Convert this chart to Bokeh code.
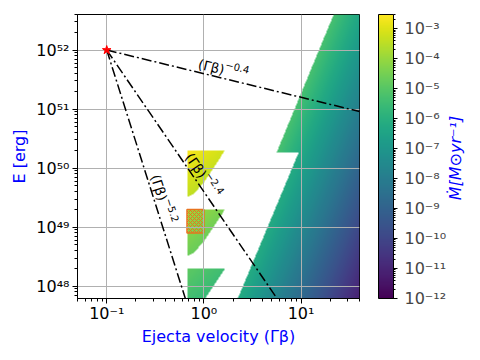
import math
import numpy as np
from bokeh.plotting import figure
from bokeh.models import (Range1d, LogColorMapper, ColorBar, LogTicker, FixedTicker,
                          CustomJSTickFormatter, LinearAxis)
from bokeh.palettes import Viridis256
from bokeh.embed import file_html
from bokeh.resources import INLINE

# ---------------- data ----------------
x_lo, x_hi = 0.05, 40.0            # Γβ axis limits
E_lo, E_hi = 6.2e47, 4.0e52        # E axis limits
mdot_lo, mdot_hi = 1e-12, 3e-3     # colour-scale limits

origin_gb = [0.1]
origin_E = [1e52]
index_values = [-0.4, -2.4, -5.2]
index_texts = ["−0.4", "−2.4", "−5.2"]

# main region: left boundary (log10 Γβ at log10 E), two segments with a step
main_upper_logE = [52.61, 50.26]
main_upper_loggb = [1.337, 0.746]
main_lower_logE = [50.26, 47.79]
main_lower_loggb = [0.973, 0.347]
# log10 Mdot at (Γβ=40, E=4e52) and its slopes in log Γβ and log E
main_ref_loggb, main_ref_logE, main_ref_logmdot = 1.602, 52.60, -6.35
main_slope_gb, main_slope_E = -4.0, 1.0

# three small regions near Γβ≈1
patch_top_E = [2.0e50, 2.0e49, 2.0e48]
patch_left_gb = 0.67
patch_edge_dlogE = [0.0, -0.284, -0.538, -0.737, -0.80]
patch_edge_loggb = [0.217, 0.103, 0.0, -0.103, -0.174]
patch_logmdot = [-2.6, -3.85, -4.85]      # at (left edge, top edge)
patch_slope_gb, patch_slope_E = -1.5, 1.0

# hatched box
hatch_gb = [0.67, 1.0]
hatch_E = [8e48, 2e49]

cbar_title = "Ṁ[M⊙yr⁻¹]"

# ---------------- field on a log grid ----------------
nx, ny = 564, 568
lgx = np.linspace(math.log10(x_lo), math.log10(x_hi), nx + 1)
lgy = np.linspace(math.log10(E_lo), math.log10(E_hi), ny + 1)
LX, LY = np.meshgrid(0.5 * (lgx[:-1] + lgx[1:]), 0.5 * (lgy[:-1] + lgy[1:]))
field = np.full(LX.shape, np.nan)

def seg(le, e0, e1, x0, x1):
    return x0 + (x1 - x0) * (le - e0) / (e1 - e0)

edge = np.where(LY >= main_upper_logE[1],
                seg(LY, *main_upper_logE, *main_upper_loggb),
                seg(LY, *main_lower_logE, *main_lower_loggb))
m = LX >= edge
field[m] = (main_ref_logmdot + main_slope_gb * (LX[m] - main_ref_loggb)
            + main_slope_E * (LY[m] - main_ref_logE))

lleft = math.log10(patch_left_gb)
for topE, ref in zip(patch_top_E, patch_logmdot):
    dE = LY - math.log10(topE)
    xmax = np.interp(dE, patch_edge_dlogE[::-1], patch_edge_loggb[::-1])
    m = (dE <= 0) & (dE >= patch_edge_dlogE[-1]) & (LX >= lleft) & (LX <= xmax)
    field[m] = ref + patch_slope_gb * (LX[m] - lleft) + patch_slope_E * dE[m]

img = 10.0 ** field

# ---------------- figure ----------------
FW, FH = 282, 284
FONT = "DejaVu Sans"
p = figure(frame_width=FW, frame_height=FH, x_axis_type="log", y_axis_type="log",
           x_range=Range1d(x_lo, x_hi), y_range=Range1d(E_lo, E_hi),
           output_backend="svg", toolbar_location=None,
           min_border_left=77, min_border_right=115, min_border_top=14, min_border_bottom=56)
p.background_fill_color = "white"
p.border_fill_color = "white"
p.outline_line_color = "black"
p.outline_line_width = 1

mapper = LogColorMapper(palette=Viridis256, low=mdot_lo, high=mdot_hi,
                        nan_color=(0, 0, 0, 0))
p.image(image=[img], x=x_lo, y=E_lo, dw=x_hi - x_lo, dh=E_hi - E_lo,
        color_mapper=mapper, level="image")

p.quad(left=[hatch_gb[0]], right=[hatch_gb[1]], bottom=[hatch_E[0]], top=[hatch_E[1]],
       fill_alpha=0, line_color="#e8731e", line_width=1.5,
       hatch_pattern="diagonal_cross", hatch_color="#e8731e", hatch_scale=4,
       hatch_weight=1, level="image")

# guide power laws
for k in index_values:
    xs = [origin_gb[0], x_hi]
    ys = [origin_E[0] * (xx / origin_gb[0]) ** k for xx in xs]
    p.line(xs, ys, line_color="black", line_width=1.5, line_dash="10 3 2 3")

p.scatter(origin_gb, origin_E, marker="star", size=9, color="red")

# labels of guide lines
ppdx = FW / math.log10(x_hi / x_lo)
ppdy = FH / math.log10(E_hi / E_lo)
label_start = [0.84, 0.59, 0.26]
gap, rise, wbase = 8.5, 6.0, 26.5
for k, txt, x0 in zip(index_values, index_texts, label_start):
    th = math.atan(k * ppdy / ppdx)
    d = (math.cos(th), -math.sin(th))
    n = (-math.sin(th), -math.cos(th))
    E0 = origin_E[0] * (x0 / origin_gb[0]) ** k

    def at(dx, dy):
        return x0 * 10 ** (dx / ppdx), E0 * 10 ** (-dy / ppdy)
    bx, by = at(gap * n[0], gap * n[1])
    ex, ey = at((gap + rise) * n[0] + wbase * d[0], (gap + rise) * n[1] + wbase * d[1])
    p.text([bx], [by], text=["(Γβ)"], angle=th, text_font={"value": FONT},
           text_font_size="13.5px", text_align="left", text_baseline="alphabetic",
           text_color="black")
    p.text([ex], [ey], text=[txt], angle=th, text_font={"value": FONT},
           text_font_size="10px", text_align="left", text_baseline="alphabetic",
           text_color="black")

# axes
fmt = CustomJSTickFormatter(code="""
const sup = {"0":"⁰","1":"¹","2":"²","3":"³","4":"⁴","5":"⁵","6":"⁶","7":"⁷","8":"⁸","9":"⁹","-":"⁻"};
const e = Math.round(Math.log10(tick));
return "10" + String(e).split("").map(c => sup[c]).join("");
""")
for ax in (p.xaxis[0], p.yaxis[0]):
    ax.formatter = fmt
    ax.ticker = LogTicker(num_minor_ticks=10)
    ax.major_label_text_font = FONT
    ax.major_label_text_font_size = "16px"
    ax.major_label_text_color = "black"
    ax.axis_label_text_font = FONT
    ax.axis_label_text_font_size = "16px"
    ax.axis_label_text_font_style = "normal"
    ax.axis_label_text_color = "blue"
    ax.axis_line_color = "black"
    ax.major_tick_in = 0
    ax.major_tick_out = 5
    ax.minor_tick_in = 0
    ax.minor_tick_out = 3
    ax.major_tick_line_color = "black"
    ax.minor_tick_line_color = "black"
p.xaxis.axis_label = "Ejecta velocity (Γβ)"
p.yaxis.axis_label = "E [erg]"
p.xaxis.major_label_standoff = 0
p.xaxis.axis_label_standoff = 1
p.yaxis.major_label_standoff = 3
p.yaxis.axis_label_standoff = 4

p.xgrid.grid_line_color = "#b0b0b0"
p.ygrid.grid_line_color = "#b0b0b0"
p.xgrid.grid_line_width = 1
p.ygrid.grid_line_width = 1

# spacer between frame and colour bar
spacer = LinearAxis(ticker=FixedTicker(ticks=[]), axis_line_color=None,
                    major_tick_line_color=None, minor_tick_line_color=None,
                    major_tick_in=0, major_tick_out=0, major_label_standoff=0,
                    axis_label=" ", axis_label_text_font_size="10px",
                    axis_label_standoff=5)
p.add_layout(spacer, "right")

cb = ColorBar(color_mapper=mapper, ticker=LogTicker(num_minor_ticks=10), formatter=fmt,
              width=15, padding=0, margin=0, label_standoff=7,
              major_label_text_font=FONT, major_label_text_font_size="16px",
              major_tick_in=0, major_tick_out=4, minor_tick_in=0, minor_tick_out=2,
              major_tick_line_color="black", minor_tick_line_color="black",
              bar_line_color="black", bar_line_width=1,
              background_fill_alpha=0, border_line_color=None)
p.add_layout(cb, "right")

# colour-bar title, as the single tick label of a line-less axis on the far right
title_E = 10 ** 49.456
cbt = LinearAxis(ticker=FixedTicker(ticks=[title_E]),
                 formatter=CustomJSTickFormatter(code="return %r;" % cbar_title),
                 axis_line_color=None, major_tick_line_color=None,
                 minor_tick_line_color=None, major_tick_in=0, major_tick_out=0,
                 major_label_standoff=6, major_label_orientation=math.pi / 2,
                 major_label_text_color="blue", major_label_text_font=FONT,
                 major_label_text_font_size="16px", major_label_text_font_style="italic")
p.add_layout(cbt, "right")

open("out.html", "w", encoding="utf-8").write(file_html(p, INLINE))
